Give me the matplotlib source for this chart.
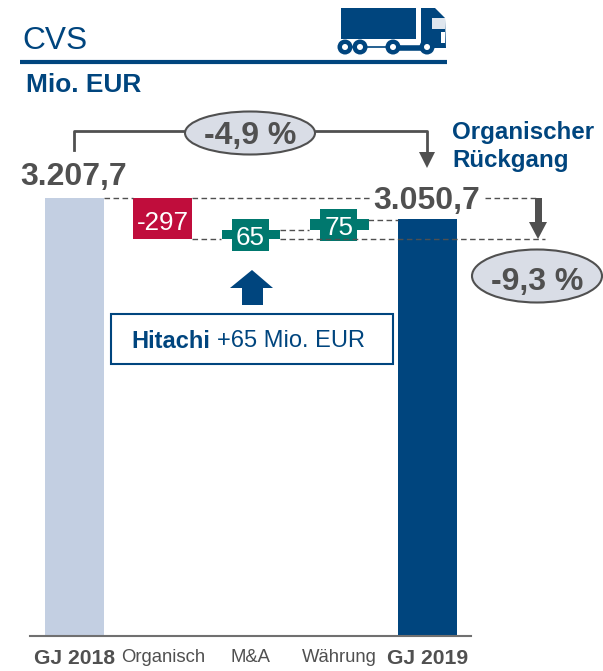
import matplotlib
matplotlib.use("Agg")
import matplotlib.pyplot as plt
from matplotlib.patches import Rectangle, Ellipse, Polygon, Circle

plt.rcParams["font.family"] = ["Liberation Sans", "DejaVu Sans"]

categories = ["GJ 2018", "Organisch", "M&A", "Währung", "GJ 2019"]
start_value = 3207.7
end_value = 3050.7
bridge_values = [-297, 65, 75]
bridge_labels = ["-297", "65", "75"]

BLUE = "#00457e"
LIGHT = "#c3cfe2"
RED = "#c00d3c"
GREEN = "#00786e"
GREY = "#505050"
W, H = 603, 671

fig = plt.figure(figsize=(W / 100, H / 100), dpi=100)

# bars, real scale: axes runs from x=30 to 471 px, zero at y=636 px
ax = fig.add_axes([30 / W, (H - 636) / H, 441 / W, 536 / H])
ax.set_xlim(-0.504, 4.493)
ax.set_ylim(0, 536 / 0.13655)
ax.patch.set_visible(False)

bar_w = 0.668
ax.bar(0, start_value, bar_w, color=LIGHT)
ax.bar(4, end_value, bar_w, color=BLUE)

level = start_value
bridge_colors = [RED, GREEN, GREEN]
for i, v in enumerate(bridge_values):
	ax.bar(i + 1, abs(v), bar_w, bottom=min(level, level + v), color=bridge_colors[i])
	level += v

for s in ["top", "left", "right"]:
	ax.spines[s].set_visible(False)
ax.spines["bottom"].set_color("#707070")
ax.spines["bottom"].set_linewidth(1.5)
ax.set_yticks([])
ax.set_xticks(range(5))
ax.set_xticklabels(categories, color=GREY, fontsize=13.3)
ax.tick_params(axis="x", length=0, pad=9.5)
for i in [0, 4]:
	ax.get_xticklabels()[i].set_fontweight("bold")
	ax.get_xticklabels()[i].set_fontsize(15.2)

# everything else is annotation, placed in pixels
ov = fig.add_axes([0, 0, 1, 1])
ov.set_xlim(0, W)
ov.set_ylim(H, 0)
ov.axis("off")
ov.patch.set_visible(False)

ov.text(22, 41, "CVS", color=BLUE, fontsize=22.8, va="center")
ov.plot([20, 447], [62, 62], color=BLUE, lw=3, solid_capstyle="butt")
ov.text(26, 85, "Mio. EUR", color=BLUE, fontsize=18.9, fontweight="bold", va="center")

# truck
ov.add_patch(Rectangle((341, 8), 75, 31, color=BLUE, lw=0))
ov.add_patch(Polygon([(421, 8), (435, 8), (445, 18), (446, 48), (421, 48)], color=BLUE, lw=0))
ov.add_patch(Polygon([(432, 18), (445, 18), (445, 29), (432, 29)], color="#dfe6ee", lw=0))
ov.add_patch(Rectangle((441, 32), 4, 11, color="white", lw=0))
ov.plot([350, 390], [47, 47], color=BLUE, lw=1.2)
ov.plot([400, 420], [47.5, 47.5], color=BLUE, lw=4)
for cx in [345, 360, 393, 427]:
	ov.add_patch(Circle((cx, 47), 7.5, color=BLUE, lw=0, zorder=3))
	ov.add_patch(Circle((cx, 47), 3, color="white", lw=0, zorder=4))

# dashed connectors
dash = dict(color=GREY, lw=1, dashes=(4, 2.5))
ov.plot([104, 133], [198, 198], **dash)
ov.plot([192, 372], [198, 198], **dash)
ov.plot([485, 537], [198, 198], **dash)
ov.plot([192, 221], [239, 239], **dash)
ov.plot([280, 309], [230, 230], **dash)
ov.plot([280, 545], [239, 239], **dash)
ov.plot([368, 398], [220, 220], **dash)

# value labels
ov.text(74, 177, "3.207,7", color=GREY, fontsize=23, fontweight="bold", ha="center", va="center")
ov.text(427, 201, "3.050,7", color=GREY, fontsize=23, fontweight="bold", ha="center", va="center")
ov.text(163, 223, bridge_labels[0], color="white", fontsize=18.7, ha="center", va="center")
ov.add_patch(Rectangle((232, 219), 37, 32, color=GREEN, lw=0))
ov.add_patch(Rectangle((320, 209), 37, 32, color=GREEN, lw=0))
ov.text(250.5, 238, bridge_labels[1], color="white", fontsize=18.7, ha="center", va="center")
ov.text(339, 228, bridge_labels[2], color="white", fontsize=18.7, ha="center", va="center")

# top bracket
ov.plot([74, 74, 186], [150, 131, 131], color=GREY, lw=2)
ov.plot([316, 427, 427], [131, 131, 154], color=GREY, lw=2)
ov.add_patch(Polygon([(419, 152), (435, 152), (427, 168)], color=GREY, lw=0))
ov.add_patch(Ellipse((250, 133), 130, 43, fc="#d9dde6", ec=GREY, lw=1.5, zorder=3))
ov.text(250, 136, "-4,9 %", color=GREY, fontsize=23, fontweight="bold", ha="center", va="center", zorder=4)
ov.text(452, 132, "Organischer", color=BLUE, fontsize=17.4, fontweight="bold", va="center")
ov.text(452, 161, "Rückgang", color=BLUE, fontsize=17.4, fontweight="bold", va="center")

# right arrow and ellipse
ov.add_patch(Polygon([(535, 198), (542, 198), (542, 222), (547, 222), (538, 239), (529, 222), (535, 222)], color=GREY, lw=0))
ov.add_patch(Ellipse((537, 276), 130, 53, fc="#d9dde6", ec=GREY, lw=1.5, clip_on=False))
ov.text(537, 282, "-9,3 %", color=GREY, fontsize=23, fontweight="bold", ha="center", va="center")

# Hitachi callout
ov.add_patch(Polygon([(252, 270), (273, 288), (263, 288), (263, 305), (242, 305), (242, 288), (230, 288)], color=BLUE, lw=0))
ov.add_patch(Rectangle((111, 314), 282, 50, fc="white", ec=BLUE, lw=1.5))
ov.text(131, 341, "Hitachi", color=BLUE, fontsize=17, fontweight="bold", va="center")
ov.text(217, 341, "+65 Mio. EUR", color=BLUE, fontsize=17, va="center")

plt.savefig("out.png", dpi=100)
